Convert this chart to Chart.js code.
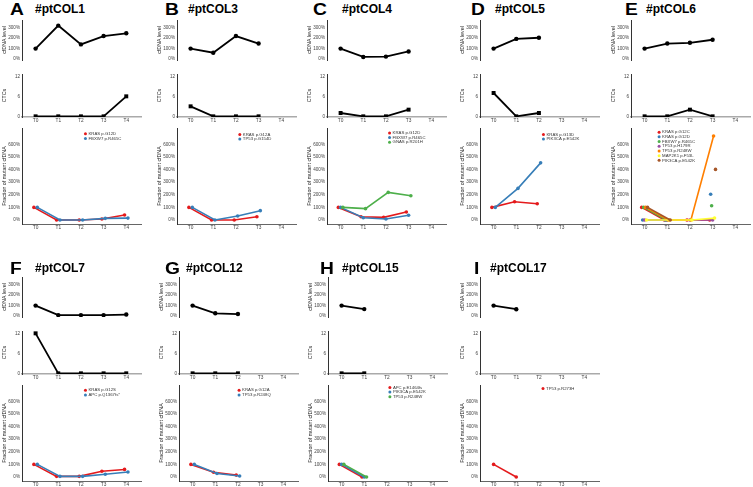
<!DOCTYPE html>
<html>
<head>
<meta charset="utf-8">
<script src="https://cdn.jsdelivr.net/npm/chart.js@4.4.1/dist/chart.umd.min.js"></script>
<style>
  body { margin: 0; background: #fff; overflow: hidden; width: 753px; height: 487px; position: relative;
         font-family: "Liberation Sans", Arial, sans-serif; }
  canvas { position: absolute; }
  .letter { position: absolute; font-weight: bold; font-size: 16px; line-height: 16px; color: #000;
            transform: scaleX(1.2); transform-origin: left top; }
  .title { position: absolute; font-weight: bold; font-size: 12px; line-height: 12px; color: #000; }
</style>
</head>
<body>
<script>
// Liquid biopsy follow-up: cfDNA level, CTC counts and mutant cfDNA fraction per patient

const timepoints = ['T0', 'T1', 'T2', 'T3', 'T4'];
const cfdnaTicks = [0, 100, 200, 300];
const ctcTicks = [0, 6, 12];
const fractionTicks = [0, 100, 200, 300, 400, 500, 600];
const mutationColors = ['#e41a1c', '#377eb8', '#4daf4a', '#984ea3', '#ff7f00', '#ffff33', '#a65628'];

// cfDNA level (% of T0)
const cfdnaCOL1 = [100, 318, 140, 219, 245];
const cfdnaCOL3 = [100, 61, 219, 148];
const cfdnaCOL4 = [100, 21, 24, 73];
const cfdnaCOL5 = [100, 192, 203];
const cfdnaCOL6 = [100, 148, 155, 184];
const cfdnaCOL7 = [100, 10, 10, 10, 15];
const cfdnaCOL12 = [100, 27, 20];
const cfdnaCOL15 = [100, 67];
const cfdnaCOL17 = [100, 66];

// CTC counts
const ctcCOL1 = [0, 0, 0, 0, 6];
const ctcCOL3 = [3, 0, 0, 0];
const ctcCOL4 = [1, 0, 0, 2];
const ctcCOL5 = [7, 0, 1];
const ctcCOL6 = [0, 0, 2, 0];
const ctcCOL7 = [12, 0, 0, 0, 0];
const ctcCOL12 = [0, 0, 0];
const ctcCOL15 = [0, 0];
const ctcCOL17 = [];

// mutations and fraction of mutant cfDNA (% of T0)
const mutCOL1 = ['KRAS p.G12D', 'FBXW7 p.R465C'];
const fracCOL1 = [[100, 0, 0, 8, 40], [100, 0, 0, 13, 15]];
const mutCOL3 = ['KRAS p.G12A', 'TP53 p.G154D'];
const fracCOL3 = [[100, 0, 0, 26], [100, 0, 32, 74]];
const mutCOL4 = ['KRAS p.G12D', 'FBXW7 p.R465C', 'GNAS p.R201H'];
const fracCOL4 = [[100, 26, 21, 63], [100, 18, 8, 37], [100, 90, 219, 193]];
const mutCOL5 = ['KRAS p.G13D', 'PIK3CA p.E542K'];
const fracCOL5 = [[100, 145, 129], [100, 251, 454]];
const mutCOL6 = ['KRAS p.G12C', 'KRAS p.G12D', 'FBXW7 p.R465C', 'TP53 p.H179R', 'TP53 p.R248W', 'MAP2K1 p.F53L', 'PIK3CA p.E542K'];
const fracCOL6 = [
  [100, 0, 0, 0],
  [0, 0, null, 204],
  [100, 0, null, 113],
  [0, 0, 0, 0],
  [100, 0, 0, 668],
  [0, 0, 0, 15],
  [100, 0, null, 402]
];
const mutCOL7 = ['KRAS p.G12S', 'APC p.Q1367fs*'];
const fracCOL7 = [[100, 5, 5, 45, 60], [100, 5, 5, 22, 40]];
const mutCOL12 = ['KRAS p.G12A', 'TP53 p.R248Q'];
const fracCOL12 = [[100, 38, 15], [100, 28, 8]];
const mutCOL15 = ['APC p.E1464fs', 'PIK3CA p.E542K', 'TP53 p.R248W'];
const fracCOL15 = [[100, 0], [100, 0], [100, 0]];
const mutCOL17 = ['TP53 p.R273H'];
const fracCOL17 = [[100, 0]];

// layout of the 3x3 grid of panels
const panels = [
  { letter: 'A', name: '#ptCOL1', cfdna: cfdnaCOL1, ctc: ctcCOL1, muts: mutCOL1, fracs: fracCOL1, axisX: 22, row: 0, letterX: 10, titleX: 35, legend: [2.2, 685] },
  { letter: 'B', name: '#ptCOL3', cfdna: cfdnaCOL3, ctc: ctcCOL3, muts: mutCOL3, fracs: fracCOL3, axisX: 177, row: 0, letterX: 165, titleX: 188, legend: [2.17, 680] },
  { letter: 'C', name: '#ptCOL4', cfdna: cfdnaCOL4, ctc: ctcCOL4, muts: mutCOL4, fracs: fracCOL4, axisX: 327, row: 0, letterX: 313, titleX: 342, legend: [2.16, 692] },
  { letter: 'D', name: '#ptCOL5', cfdna: cfdnaCOL5, ctc: ctcCOL5, muts: mutCOL5, fracs: fracCOL5, axisX: 480, row: 0, letterX: 471, titleX: 495, legend: [2.2, 680] },
  { letter: 'E', name: '#ptCOL6', cfdna: cfdnaCOL6, ctc: ctcCOL6, muts: mutCOL6, fracs: fracCOL6, axisX: 631, row: 0, letterX: 625, titleX: 646, legend: [0.64, 698] },
  { letter: 'F', name: '#ptCOL7', cfdna: cfdnaCOL7, ctc: ctcCOL7, muts: mutCOL7, fracs: fracCOL7, axisX: 22, row: 1, letterX: 10, titleX: 35, legend: [2.2, 689] },
  { letter: 'G', name: '#ptCOL12', cfdna: cfdnaCOL12, ctc: ctcCOL12, muts: mutCOL12, fracs: fracCOL12, axisX: 179, row: 1, letterX: 165, titleX: 186, legend: [2.05, 689] },
  { letter: 'H', name: '#ptCOL15', cfdna: cfdnaCOL15, ctc: ctcCOL15, muts: mutCOL15, fracs: fracCOL15, axisX: 328, row: 1, letterX: 320, titleX: 342, legend: [2.13, 712] },
  { letter: 'I', name: '#ptCOL17', cfdna: cfdnaCOL17, ctc: ctcCOL17, muts: mutCOL17, fracs: fracCOL17, axisX: 480, row: 1, letterX: 474, titleX: 490, legend: [2.18, 703] }
];

const FONT = '"Liberation Sans", Arial, sans-serif';
const ROW_Y = [0, 257];
const TEXT_Y = [0, 259];
const AREA_W = 119;
const Y_AXIS_W = 21;
const X_AXIS_H = 8;
const PAD_TOP = 6;
const PAD_RIGHT = 3;
const DODGE = 0.3;

// draws the mutation legend inside the plot area, anchored in data units
const innerLegend = {
  id: 'innerLegend',
  afterDatasetsDraw(chart, args, opts) {
    const { ctx, scales } = chart;
    const x0 = scales.x.getPixelForValue(opts.x);
    const y0 = scales.y.getPixelForValue(opts.y);
    ctx.save();
    ctx.font = '4.3px ' + FONT;
    ctx.textBaseline = 'middle';
    chart.data.datasets.forEach((ds, i) => {
      const y = y0 + i * 4.7;
      ctx.fillStyle = ds.borderColor;
      ctx.beginPath();
      ctx.arc(x0, y, 1.5, 0, Math.PI * 2);
      ctx.fill();
      ctx.fillStyle = '#333';
      ctx.fillText(ds.label, x0 + 3, y);
    });
    ctx.restore();
  }
};

function xScale(show, color, width) {
  return {
    type: 'linear',
    min: -0.6,
    max: 4.65,
    display: show,
    grid: { display: false, drawTicks: false },
    border: { display: true, color: color, width: width },
    afterBuildTicks: s => { s.ticks = timepoints.map((t, i) => ({ value: i })); },
    ticks: {
      callback: v => timepoints[v],
      font: { family: FONT, size: 4.8 },
      color: '#444',
      padding: 1,
      maxRotation: 0,
      autoSkip: false
    },
    afterFit: s => { s.height = X_AXIS_H; }
  };
}

function yScale(title, min, max, tickValues, suffix) {
  return {
    min: min,
    max: max,
    grid: { display: false, drawTicks: false },
    border: { display: true, color: '#333', width: 1 },
    afterBuildTicks: s => { s.ticks = tickValues.map(v => ({ value: v })); },
    ticks: { callback: v => v + suffix, font: { family: FONT, size: 4.6 }, color: '#444', padding: 2 },
    title: { display: true, text: title, font: { family: FONT, size: 5.3 }, color: '#222', padding: 0 },
    afterFit: s => { s.width = Y_AXIS_W; }
  };
}

function toPoints(values, offset) {
  return values.map((v, i) => ({ x: i + offset, y: v }));
}

function addChart(axisX, areaTop, areaH, hasXAxis, datasets, scales, legendOpts) {
  const canvas = document.createElement('canvas');
  const padBottom = hasXAxis ? 1 : 6;
  canvas.width = Y_AXIS_W + AREA_W + PAD_RIGHT;
  canvas.height = PAD_TOP + areaH + (hasXAxis ? X_AXIS_H : 0) + padBottom;
  canvas.style.left = (axisX - Y_AXIS_W) + 'px';
  canvas.style.top = (areaTop - PAD_TOP) + 'px';
  document.body.appendChild(canvas);

  return new Chart(canvas, {
    type: 'line',
    data: { datasets: datasets },
    options: {
      responsive: false,
      animation: false,
      events: [],
      layout: { padding: { top: PAD_TOP, right: PAD_RIGHT, bottom: padBottom, left: 0 }, autoPadding: false },
      scales: scales,
      plugins: {
        legend: { display: false },
        tooltip: { enabled: false },
        innerLegend: legendOpts || false
      }
    },
    plugins: legendOpts ? [innerLegend] : []
  });
}

function addText(cls, text, left, top) {
  const el = document.createElement('div');
  el.className = cls;
  el.textContent = text;
  el.style.left = left + 'px';
  el.style.top = top + 'px';
  document.body.appendChild(el);
}

panels.forEach(p => {
  const dy = ROW_Y[p.row];

  addText('letter', p.letter, p.letterX, TEXT_Y[p.row] + 2);
  addText('title', p.name, p.titleX, TEXT_Y[p.row] + 3.4);

  // cfDNA level
  addChart(p.axisX, 20 + dy, 48, false, [{
    data: toPoints(p.cfdna, 0),
    borderColor: '#000',
    backgroundColor: '#000',
    borderWidth: 1.8,
    pointRadius: 2.2,
    pointBorderWidth: 0,
    pointStyle: 'circle'
  }], {
    x: xScale(false, '#333', 1),
    y: yScale('cfDNA level', -8, 371, cfdnaTicks, '%')
  });

  // CTCs
  addChart(p.axisX, 74 + dy, 43, true, [{
    data: toPoints(p.ctc, 0),
    borderColor: '#000',
    backgroundColor: '#000',
    borderWidth: 1.8,
    pointRadius: 2.8,
    pointBorderWidth: 0,
    pointStyle: 'rect'
  }], {
    x: xScale(true, '#aaa', 1.5),
    y: yScale('CTCs', -0.2, 12.7, ctcTicks, '')
  });

  // fraction of mutant cfDNA
  const n = p.muts.length;
  const mutSets = p.muts.map((m, k) => ({
    label: m,
    data: toPoints(p.fracs[k], DODGE * (k - (n - 1) / 2) / n),
    borderColor: mutationColors[k],
    backgroundColor: mutationColors[k],
    borderWidth: 1.6,
    pointRadius: 1.8,
    pointBorderWidth: 0,
    order: n - k
  }));
  addChart(p.axisX, 128 + dy, 96, true, mutSets, {
    x: xScale(true, '#666', 1),
    y: yScale('Fraction of mutant cfDNA', -32, 731, fractionTicks, '%')
  }, { x: p.legend[0], y: p.legend[1] });
});
</script>
</body>
</html>
